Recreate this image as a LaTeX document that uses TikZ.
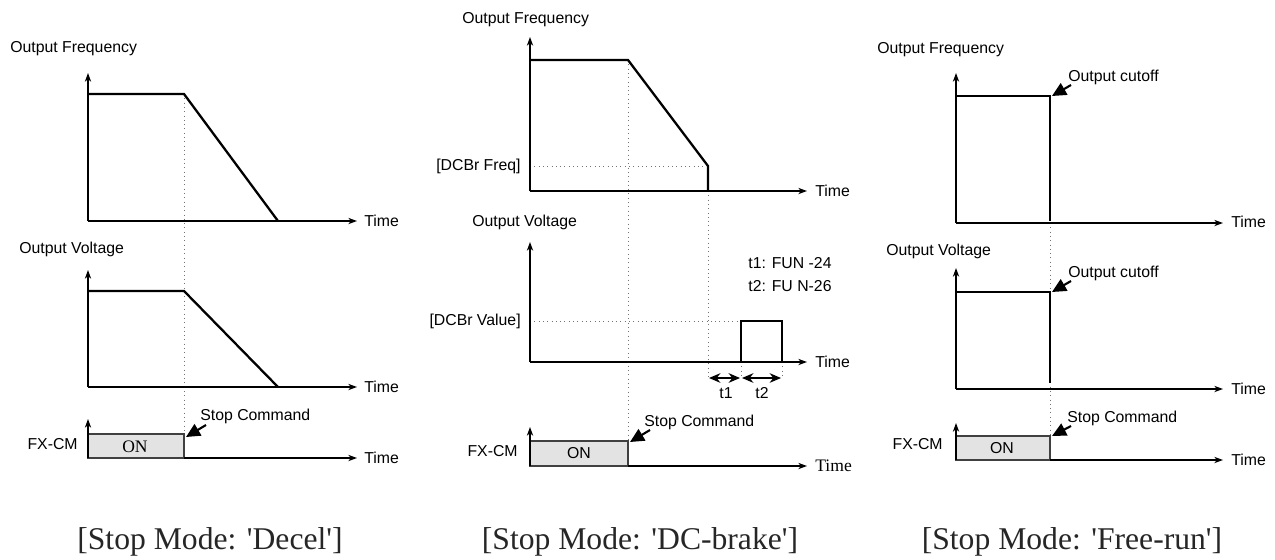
\documentclass[tikz,border=0pt]{standalone}
\usepackage{fontspec}
\setmainfont{Liberation Sans}
\newfontfamily\capfont{Liberation Serif}
\usetikzlibrary{arrows.meta}

\tikzset{
  axis/.style={line width=0.7pt, -{Stealth[length=5pt,width=3.6pt]}},
  signal/.style={line width=1.3pt},
  guide/.style={dotted, black!55, line width=0.45pt},
  pointer/.style={line width=1.2pt, -{Triangle[length=8pt,width=7.5pt]}},
  span/.style={line width=0.7pt, {Stealth[length=6.5pt,width=5.5pt]}-{Stealth[length=6.5pt,width=5.5pt]}},
  onbox/.style={fill=black!11, draw=black!75, line width=0.6pt},
  lbl/.style={inner sep=0pt, font=\fontsize{9}{11}\selectfont},
  caption/.style={inner sep=0pt, text=black!85, font=\capfont\fontsize{18}{20}\selectfont}
}

\begin{document}
\begin{tikzpicture}[x=0.2mm, y=-0.2mm]
  \useasboundingbox (0,0) rectangle (1275,559);
  % ---------------- left: stop mode Decel ----------------
  % guide at the stop command
  \draw[guide] (184,94) -- (184,434);
  % frequency
  \draw[axis] (88,221) -- (88,73);
  \draw[axis] (88,221) -- (357,221);
  \draw[signal] (88,94) -- (184,94) -- (278,221);
  \node[lbl, anchor=west] (freqA) at (10,49) {Output Frequency};
  \node[lbl, anchor=west] (timeA1) at (364,221) {Time};
  % voltage
  \draw[axis] (88,387) -- (88,270);
  \draw[axis] (88,387) -- (357,387);
  \draw[signal] (88,291) -- (184,291) -- (278,387);
  \node[lbl, anchor=west] (voltA) at (19,249) {Output Voltage};
  \node[lbl, anchor=west] (timeA2) at (364,387) {Time};
  % run command
  \draw[onbox] (88,434) rectangle (184,458);
  \draw[axis] (88,458) -- (88,419);
  \draw[axis] (184,458) -- (357,458);
  \node[inner sep=0pt, font=\capfont\fontsize{10}{12}\selectfont] (onA) at (135,447) {ON};
  \node[lbl, anchor=east] (fxA) at (78,444) {FX-CM};
  \node[lbl, anchor=west] (timeA3) at (364,458) {Time};
  \node[lbl, anchor=west] (stopA) at (200,416) {Stop Command};
  \coordinate (tailA) at (206,425);
  \coordinate (cmdA) at (186,437);
  \draw[pointer] (tailA) -- (cmdA);
  \node[caption] (capA) at (210,542) {[Stop Mode: 'Decel']};

  % ---------------- middle: stop mode DC-brake ----------------
  % guides
  \draw[guide] (628,60) -- (628,441);
  \draw[guide] (708,191) -- (708,378);
  \draw[guide] (741,362) -- (741,378);
  \draw[guide] (782,362) -- (782,378);
  \draw[guide] (530,166) -- (708,166);
  \draw[guide] (530,321) -- (741,321);
  % frequency
  \draw[axis] (530,191) -- (530,37);
  \draw[axis] (530,191) -- (807,191);
  \draw[signal] (530,60) -- (628,60) -- (708,166) -- (708,191);
  \node[lbl, anchor=west] (freqB) at (462,20) {Output Frequency};
  \node[lbl, anchor=east] (dcfB) at (521,166) {[DCBr Freq]};
  \node[lbl, anchor=west] (timeB1) at (815,191) {Time};
  % voltage
  \draw[axis] (530,362) -- (530,242);
  \draw[axis] (530,362) -- (807,362);
  \draw[signal] (741,362) -- (741,321) -- (782,321) -- (782,362);
  \node[lbl, anchor=west] (voltB) at (472,222) {Output Voltage};
  \node[lbl, anchor=east] (dcvB) at (521,321) {[DCBr Value]};
  \node[lbl, anchor=west] (timeB2) at (815,362) {Time};
  \node[lbl, anchor=west] (tonB) at (748,263) {t1: FUN -24};
  \node[lbl, anchor=west] (ttwoB) at (748,286) {t2: FU N-26};
  % braking times
  \draw[span] (709,378) -- (740,378);
  \draw[span] (742,378) -- (781,378);
  \node[lbl] (tlB) at (726,393) {t1};
  \node[lbl] (t2B) at (762,393) {t2};
  % run command
  \draw[onbox] (530,441) rectangle (628,466);
  \draw[axis] (530,466) -- (530,427);
  \draw[axis] (628,466) -- (807,466);
  \node[lbl] (onB) at (579,453) {ON};
  \node[lbl, anchor=east] (fxB) at (518,451) {FX-CM};
  \node[inner sep=0pt, anchor=west, font=\capfont\fontsize{10}{12}\selectfont] (timeB3) at (815,466) {Time};
  \node[lbl, anchor=west] (stopB) at (644,422) {Stop Command};
  \coordinate (tailB) at (650,430);
  \coordinate (cmdB) at (630,442);
  \draw[pointer] (tailB) -- (cmdB);
  \node[caption] (capB) at (640,542) {[Stop Mode: 'DC-brake']};

  % ---------------- right: stop mode Free-run ----------------
  \draw[guide] (1050,223) -- (1050,436);
  % frequency
  \draw[axis] (956,223) -- (956,73);
  \draw[axis] (956,223) -- (1223,223);
  \draw[signal] (956,96) -- (1050,96) -- (1050,221);
  \node[lbl, anchor=west] (freqC) at (877,50) {Output Frequency};
  \node[lbl, anchor=west] (timeC1) at (1231,222) {Time};
  \node[lbl, anchor=west] (cutC1) at (1068,77) {Output cutoff};
  \coordinate (tailC1) at (1071,85);
  \coordinate (cutoffC1) at (1052,96);
  \draw[pointer] (tailC1) -- (cutoffC1);
  % voltage
  \draw[axis] (956,389) -- (956,268);
  \draw[axis] (956,389) -- (1223,389);
  \draw[signal] (956,292) -- (1050,292) -- (1050,383);
  \node[lbl, anchor=west] (voltC) at (886,251) {Output Voltage};
  \node[lbl, anchor=west] (timeC2) at (1231,389) {Time};
  \node[lbl, anchor=west] (cutC2) at (1068,273) {Output cutoff};
  \coordinate (tailC2) at (1071,281);
  \coordinate (cutoffC2) at (1052,292);
  \draw[pointer] (tailC2) -- (cutoffC2);
  % run command
  \draw[onbox] (956,436) rectangle (1050,460);
  \draw[axis] (956,460) -- (956,423);
  \draw[axis] (1050,460) -- (1223,460);
  \node[lbl] (onC) at (1002,448) {ON};
  \node[lbl, anchor=east] (fxC) at (943,444) {FX-CM};
  \node[lbl, anchor=west] (timeC3) at (1231,460) {Time};
  \node[lbl, anchor=west] (stopC) at (1067,418) {Stop Command};
  \coordinate (tailC3) at (1071,426);
  \coordinate (cmdC) at (1052,436);
  \draw[pointer] (tailC3) -- (cmdC);
  \node[caption] (capC) at (1072,542) {[Stop Mode: 'Free-run']};
\end{tikzpicture}
\end{document}
